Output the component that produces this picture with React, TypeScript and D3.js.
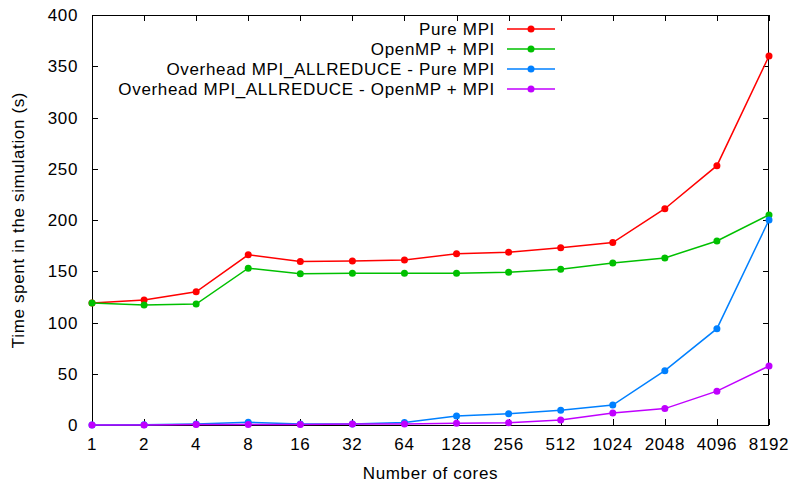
import React, { useEffect, useRef } from "react";
import * as d3 from "d3";

// core counts on the x axis (categorical, evenly spaced)
const cores = ["1", "2", "4", "8", "16", "32", "64", "128", "256", "512", "1024", "2048", "4096", "8192"];

const pureMpi = [119, 122, 130, 166, 159.5, 160, 161, 167, 168.5, 173, 178, 211, 253, 360];
const openMpMpi = [119, 117, 118, 153, 147.5, 148, 148, 148, 149, 152, 158, 163, 179.5, 205];
const overheadPure = [0, 0.2, 1, 2.6, 1, 1, 2.5, 8.8, 11, 14.3, 19.5, 53, 94, 200];
const overheadOmp = [0, 0, 0.5, 0.5, 0.5, 1, 1, 1.6, 2.3, 4.9, 11.7, 16, 33, 57.6];

const yTicks = [0, 50, 100, 150, 200, 250, 300, 350, 400];

const seriesList = [
  { name: "Pure MPI", values: pureMpi, color: "#ff0000" },
  { name: "OpenMP + MPI", values: openMpMpi, color: "#00c000" },
  { name: "Overhead MPI_ALLREDUCE - Pure MPI", values: overheadPure, color: "#0080ff" },
  { name: "Overhead MPI_ALLREDUCE - OpenMP + MPI", values: overheadOmp, color: "#c000ff" },
];

const W = 792;
const H = 482;
const margin = { left: 92, right: 23, top: 15, bottom: 57 };

export default function App() {
  const svgRef = useRef<SVGSVGElement>(null);

  useEffect(() => {
    const svg = d3.select(svgRef.current);
    svg.selectAll("*").remove();

    const x = d3.scalePoint<string>().domain(cores).range([margin.left, W - margin.right]);
    const y = d3.scaleLinear().domain([0, 400]).range([H - margin.bottom, margin.top]);
    const font = "'Liberation Sans', Arial, sans-serif";
    const fs = 17;
    const ls = 0.65;
    const tickLen = 6;

    const g = svg.append("g");
    const txt = (xx: number, yy: number, anchor: string, s: string | number) =>
      g.append("text").attr("x", xx).attr("y", yy).attr("text-anchor", anchor)
        .attr("font-family", font).attr("font-size", fs).attr("letter-spacing", ls)
        .text(s);

    // ticks, mirrored on all four sides
    yTicks.forEach(t => {
      const yy = Math.round(y(t)) + 0.5;
      g.append("line").attr("x1", margin.left).attr("x2", margin.left + tickLen)
        .attr("y1", yy).attr("y2", yy).attr("stroke", "#000");
      g.append("line").attr("x1", W - margin.right - tickLen).attr("x2", W - margin.right)
        .attr("y1", yy).attr("y2", yy).attr("stroke", "#000");
      txt(margin.left - 14, y(t) + 6, "end", t);
    });
    cores.forEach(c => {
      const xx = Math.round(x(c)!) + 0.5;
      g.append("line").attr("x1", xx).attr("x2", xx)
        .attr("y1", H - margin.bottom).attr("y2", H - margin.bottom - tickLen).attr("stroke", "#000");
      g.append("line").attr("x1", xx).attr("x2", xx)
        .attr("y1", margin.top).attr("y2", margin.top + tickLen).attr("stroke", "#000");
      txt(x(c)!, H - margin.bottom + 25, "middle", c);
    });

    // border
    g.append("rect")
      .attr("x", margin.left + 0.5).attr("y", margin.top + 0.5)
      .attr("width", W - margin.left - margin.right - 1)
      .attr("height", H - margin.top - margin.bottom)
      .attr("fill", "none").attr("stroke", "#000");

    // axis titles
    txt((margin.left + W - margin.right) / 2, 479, "middle", "Number of cores");
    g.append("text").attr("transform", `translate(24, ${(margin.top + H - margin.bottom) / 2}) rotate(-90)`)
      .attr("text-anchor", "middle").attr("font-family", font).attr("font-size", fs)
      .attr("letter-spacing", ls)
      .text("Time spent in the simulation (s)");

    const line = d3.line<number>().x((_, i) => x(cores[i])!).y(d => y(d));

    seriesList.forEach(s => {
      g.append("path").datum(s.values).attr("d", line)
        .attr("fill", "none").attr("stroke", s.color).attr("stroke-width", 1.5);
      g.selectAll(null).data(s.values).enter().append("circle")
        .attr("cx", (_, i) => x(cores[i])!).attr("cy", d => y(d))
        .attr("r", 3.5).attr("fill", s.color);
    });

    // legend
    seriesList.forEach((s, i) => {
      const ly = 29 + i * 20;
      txt(495, ly + 6, "end", s.name);
      g.append("line").attr("x1", 507).attr("x2", 555).attr("y1", ly).attr("y2", ly)
        .attr("stroke", s.color).attr("stroke-width", 1.5);
      g.append("circle").attr("cx", 531).attr("cy", ly).attr("r", 3.5).attr("fill", s.color);
    });
  }, []);

  return (
    <svg ref={svgRef} width={W} height={H}
      style={{ position: "absolute", left: 0, top: 0, background: "#fff" }} />
  );
}
